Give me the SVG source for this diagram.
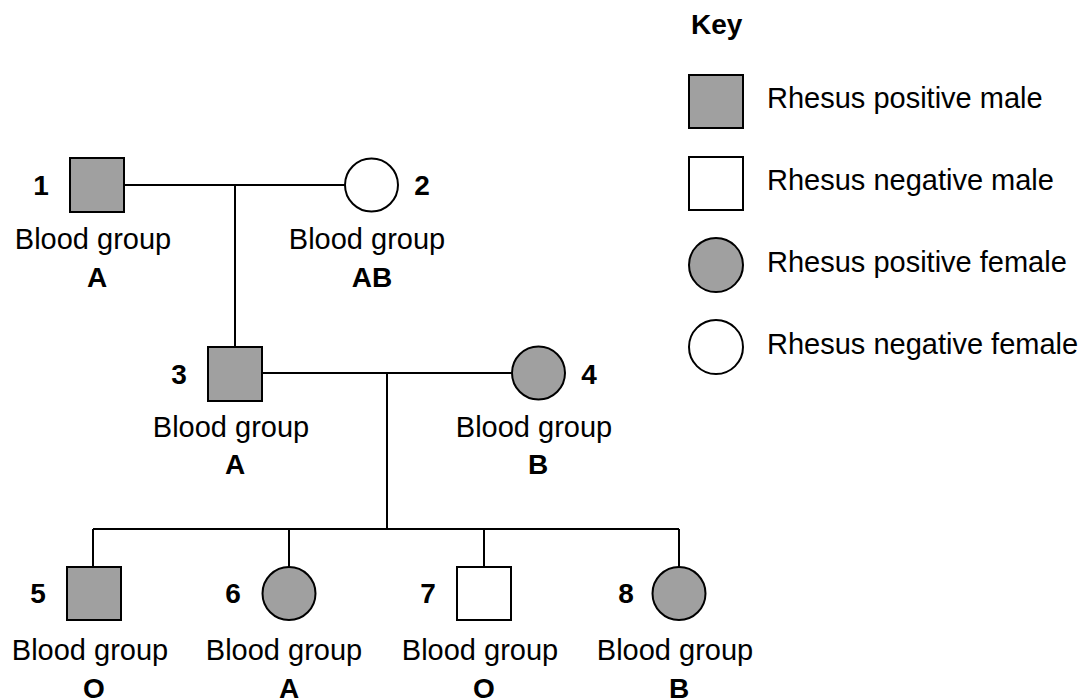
<svg xmlns="http://www.w3.org/2000/svg" width="1092" height="698" viewBox="0 0 1092 698">
<style>
.pos{fill:#a0a0a0;stroke:#000;stroke-width:2}
.neg{fill:#fff;stroke:#000;stroke-width:2}
.ln{stroke:#000;stroke-width:2;fill:none}
.t{font-family:"Liberation Sans",Arial,sans-serif;font-size:29px;fill:#000}
.b{font-family:"Liberation Sans",Arial,sans-serif;font-size:28px;font-weight:bold;fill:#000}
.m{text-anchor:middle}
</style>
<rect width="1092" height="698" fill="#fff"/>
<g id="connectors">
<path class="ln" d="M124 185H345M235 185V347"/>
<path class="ln" d="M262 373H512M387 373V529"/>
<path class="ln" d="M93 529H679M93 529V567M289 529V567M484 529V567M679 529V567"/>
</g>
<g id="n1"><rect class="pos" x="70" y="158" width="54" height="54"/><text class="b m" x="41" y="195">1</text><text class="t m" x="93" y="249">Blood group</text><text class="b m" x="97" y="287">A</text></g>
<g id="n2"><circle class="neg" cx="371.5" cy="185" r="26.5"/><text class="b m" x="422" y="195">2</text><text class="t m" x="367" y="249">Blood group</text><text class="b m" x="372" y="287">AB</text></g>
<g id="n3"><rect class="pos" x="208" y="347" width="54" height="54"/><text class="b m" x="179" y="384">3</text><text class="t m" x="231" y="437">Blood group</text><text class="b m" x="235" y="474">A</text></g>
<g id="n4"><circle class="pos" cx="538.5" cy="373" r="26.5"/><text class="b m" x="589" y="384">4</text><text class="t m" x="534" y="437">Blood group</text><text class="b m" x="538" y="474">B</text></g>
<g id="n5"><rect class="pos" x="67" y="567" width="54" height="53"/><text class="b m" x="38" y="603">5</text><text class="t m" x="90" y="660">Blood group</text><text class="b m" x="94" y="698">O</text></g>
<g id="n6"><circle class="pos" cx="289" cy="593.5" r="26.5"/><text class="b m" x="233" y="603">6</text><text class="t m" x="284" y="660">Blood group</text><text class="b m" x="289" y="698">A</text></g>
<g id="n7"><rect class="neg" x="457" y="567" width="54" height="53"/><text class="b m" x="428" y="603">7</text><text class="t m" x="480" y="660">Blood group</text><text class="b m" x="484" y="698">O</text></g>
<g id="n8"><circle class="pos" cx="679" cy="593.5" r="26.5"/><text class="b m" x="626" y="603">8</text><text class="t m" x="675" y="660">Blood group</text><text class="b m" x="679" y="698">B</text></g>
<g id="key">
<text class="b" x="691" y="34">Key</text>
<rect class="pos" x="689" y="75" width="54" height="53"/><text class="t" x="767" y="108">Rhesus positive male</text>
<rect class="neg" x="689" y="157" width="54" height="53"/><text class="t" x="767" y="190">Rhesus negative male</text>
<circle class="pos" cx="716" cy="265" r="27"/><text class="t" x="767" y="272">Rhesus positive female</text>
<circle class="neg" cx="716" cy="347" r="27"/><text class="t" x="767" y="354">Rhesus negative female</text>
</g>
</svg>
